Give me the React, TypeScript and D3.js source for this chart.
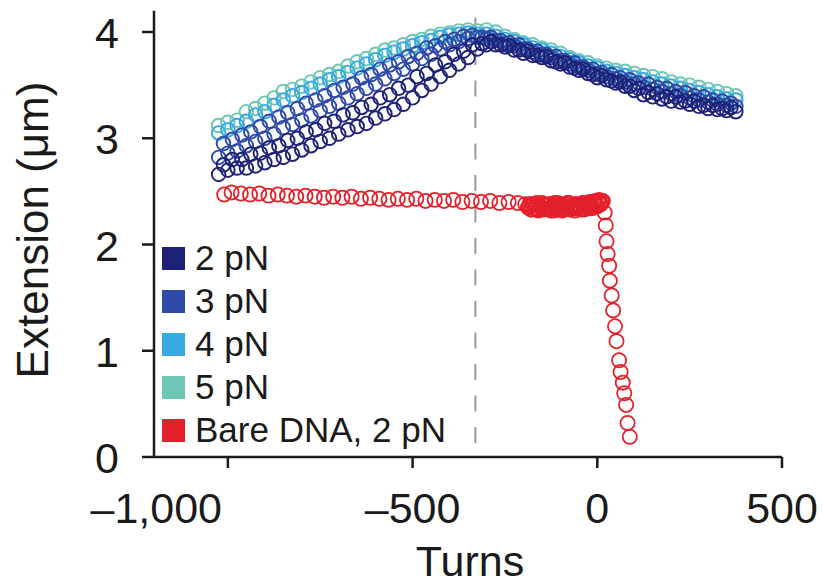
import React from "react";
import * as d3 from "d3";

// ---------- data ----------
const turnsBlue = [
  -1025, -1000, -975, -950, -925, -900, -875, -850, -825, -800, -775, -750, -725, -700, -675, -650, -625, -600,
  -575, -550, -525, -500, -475, -450, -425, -400, -375, -350, -325, -300, -275, -250, -225, -200, -175, -150,
  -125, -100, -75, -50, -25, 0, 25, 50, 75, 100, 125, 150, 175, 200, 225, 250, 275, 300, 325, 350, 375,
];
// second sweep, offset by half a step
const turnsBlueB = [
  -1012, -988, -962, -938, -912, -888, -862, -838, -812, -788, -762, -738, -712, -688, -662, -638, -612, -588,
  -562, -538, -512, -488, -462, -438, -412, -388, -362, -338, -312, -288, -262, -238, -212, -188, -162, -138,
  -112, -88, -62, -38, -12, 12, 38, 62, 88, 112, 138, 162, 188, 212, 238, 262, 288, 312, 338, 362,
];

const ext5pN = [
  3.12, 3.15, 3.17, 3.25, 3.28, 3.33, 3.38, 3.44, 3.46, 3.49, 3.53, 3.57, 3.6, 3.63, 3.68, 3.72, 3.75, 3.79,
  3.83, 3.85, 3.88, 3.91, 3.93, 3.96, 3.98, 3.99, 4.01, 4.02, 4.01, 4.02, 4.0, 3.96, 3.93, 3.9, 3.88, 3.85,
  3.83, 3.8, 3.76, 3.73, 3.71, 3.68, 3.66, 3.64, 3.63, 3.61, 3.59, 3.58, 3.56, 3.53, 3.51, 3.5, 3.48, 3.46,
  3.44, 3.42, 3.4,
];
const ext4pN = [
  3.05, 3.08, 3.12, 3.16, 3.22, 3.25, 3.31, 3.36, 3.4, 3.43, 3.47, 3.51, 3.55, 3.58, 3.62, 3.66, 3.7, 3.74,
  3.78, 3.81, 3.84, 3.87, 3.9, 3.92, 3.95, 3.97, 3.98, 3.99, 3.98, 3.98, 3.96, 3.93, 3.91, 3.88, 3.85, 3.83,
  3.8, 3.77, 3.74, 3.71, 3.68, 3.66, 3.63, 3.61, 3.59, 3.57, 3.55, 3.53, 3.51, 3.49, 3.47, 3.45, 3.43, 3.41,
  3.39, 3.37, 3.36,
];
const ext3pNB = [
  2.95, 2.99, 3.03, 3.06, 3.11, 3.16, 3.2, 3.24, 3.28, 3.33, 3.36, 3.4, 3.45, 3.48, 3.51, 3.57, 3.6, 3.65,
  3.69, 3.72, 3.77, 3.8, 3.85, 3.87, 3.91, 3.93, 3.96, 3.97, 3.95, 3.95, 3.92, 3.9, 3.88, 3.84, 3.82, 3.79,
  3.77, 3.73, 3.71, 3.67, 3.65, 3.62, 3.6, 3.57, 3.55, 3.52, 3.51, 3.48, 3.47, 3.44, 3.43, 3.4, 3.39, 3.36,
  3.35, 3.33,
];
const ext3pN = [
  2.82, 2.86, 2.88, 2.93, 2.97, 3.0, 3.04, 3.1, 3.13, 3.17, 3.21, 3.26, 3.3, 3.33, 3.38, 3.42, 3.47, 3.51,
  3.56, 3.61, 3.65, 3.7, 3.75, 3.79, 3.84, 3.88, 3.91, 3.94, 3.95, 3.94, 3.92, 3.89, 3.87, 3.84, 3.81, 3.79,
  3.76, 3.73, 3.7, 3.67, 3.64, 3.61, 3.58, 3.56, 3.53, 3.51, 3.48, 3.46, 3.44, 3.42, 3.4, 3.38, 3.36, 3.34,
  3.32, 3.31, 3.3,
];
const ext2pNB = [
  2.75, 2.8, 2.8, 2.85, 2.86, 2.91, 2.93, 2.98, 3.0, 3.06, 3.08, 3.14, 3.16, 3.22, 3.24, 3.29, 3.32, 3.38,
  3.41, 3.47, 3.5, 3.58, 3.61, 3.69, 3.72, 3.79, 3.82, 3.88, 3.89, 3.91, 3.88, 3.87, 3.83, 3.82, 3.78, 3.77,
  3.72, 3.71, 3.66, 3.65, 3.6, 3.59, 3.54, 3.53, 3.49, 3.47, 3.43, 3.42, 3.39, 3.39, 3.35, 3.35, 3.31, 3.31,
  3.28, 3.29,
];
const ext2pN = [
  2.66, 2.7, 2.72, 2.72, 2.74, 2.77, 2.8, 2.82, 2.85, 2.89, 2.93, 2.97, 3.0, 3.04, 3.08, 3.11, 3.14, 3.19,
  3.23, 3.27, 3.32, 3.38, 3.45, 3.51, 3.58, 3.64, 3.7, 3.76, 3.84, 3.88, 3.88, 3.86, 3.83, 3.8, 3.78, 3.76,
  3.73, 3.7, 3.67, 3.64, 3.61, 3.57, 3.55, 3.52, 3.49, 3.45, 3.41, 3.39, 3.37, 3.35, 3.34, 3.32, 3.3, 3.28,
  3.27, 3.26, 3.25,
];

const turnsBare = [
  -1010, -990, -965, -940, -915, -890, -865, -840, -815, -790, -765, -740, -715, -690, -665, -640, -615, -590,
  -565, -540, -515, -490, -465, -440, -415, -390, -365, -340, -315, -290, -265, -240, -215, -195,
  -185, -180, -175, -170, -165, -160, -155, -150, -145, -140, -135, -130, -125, -120, -115, -110, -105, -100,
  -95, -90, -85, -80, -75, -70, -65, -60, -55, -50, -45, -40, -35, -30, -25, -20, -15, -10, -5, 0, 5, 10, 15,
  20, 23, 25, 28, 32, 34, 39, 43, 48, 52, 59, 63, 69, 73, 78, 82, 88,
];
const extBare = [
  2.47, 2.49, 2.48, 2.47, 2.48, 2.46, 2.47, 2.46, 2.45, 2.46, 2.45, 2.44, 2.45, 2.44, 2.45, 2.43, 2.44, 2.43,
  2.42, 2.43, 2.42, 2.43, 2.41, 2.42, 2.41, 2.42, 2.4, 2.41, 2.4, 2.41, 2.39, 2.4, 2.39, 2.38,
  2.36, 2.33, 2.38, 2.34, 2.37, 2.32, 2.36, 2.39, 2.33, 2.37, 2.34, 2.38, 2.32, 2.36, 2.39, 2.33, 2.35, 2.38,
  2.32, 2.36, 2.34, 2.39, 2.33, 2.37, 2.35, 2.32, 2.38, 2.34, 2.36, 2.39, 2.33, 2.37, 2.35, 2.4, 2.34, 2.38,
  2.41, 2.36, 2.42, 2.38, 2.41, 2.3, 2.18, 2.03, 1.91, 1.8, 1.66, 1.52, 1.38, 1.23, 1.09, 0.91, 0.8, 0.7, 0.6,
  0.49, 0.32, 0.19,
];
// second, denser sweep near zero turns
const turnsBareB = [
  -188, -183, -178, -173, -168, -163, -158, -153, -148, -143, -138, -133, -128, -123, -118, -113, -108, -103,
  -98, -93, -88, -83, -78, -73, -68, -63, -58, -53, -48, -43, -38, -33, -28, -23, -18, -13, -8, -3, 2, 7, 12,
];
const extBareB = [
  2.35, 2.38, 2.33, 2.37, 2.34, 2.39, 2.33, 2.35, 2.38, 2.34, 2.37, 2.33, 2.38, 2.35, 2.32, 2.37, 2.39, 2.34,
  2.37, 2.33, 2.38, 2.35, 2.39, 2.33, 2.36, 2.38, 2.34, 2.37, 2.35, 2.33, 2.38, 2.36, 2.39, 2.34, 2.38, 2.36,
  2.4, 2.37, 2.41, 2.38, 2.4,
];

const legendLabels = ["2 pN", "3 pN", "4 pN", "5 pN", "Bare DNA, 2 pN"];
const legendColors = ["#1e2277", "#2f4aa8", "#35aae3", "#6fc6b6", "#e4202a"];

const xTicks = [-1000, -500, 0, 500];
const xTickLabels = ["–1,000", "–500", "0", "500"];
const yTicks = [0, 1, 2, 3, 4];
const transitionTurn = -330;

// ---------- layout ----------
const W = 823;
const H = 587;
const FONT = "'Liberation Sans', Arial, Helvetica, sans-serif";

export default function App() {
  const x = d3.scaleLinear().domain([-1200, 500]).range([154, 782]);
  const y = d3.scaleLinear().domain([0, 4.2]).range([457, 10.75]);

  const blueSeries = [
    { t: turnsBlue, vals: ext5pN, color: legendColors[3] },
    { t: turnsBlue, vals: ext4pN, color: legendColors[2] },
    { t: turnsBlueB, vals: ext3pNB, color: legendColors[1] },
    { t: turnsBlue, vals: ext3pN, color: legendColors[1] },
    { t: turnsBlueB, vals: ext2pNB, color: legendColors[0] },
    { t: turnsBlue, vals: ext2pN, color: legendColors[0] },
  ];
  const redSeries = [
    { t: turnsBare, vals: extBare },
    { t: turnsBareB, vals: extBareB },
  ];

  return (
    <svg
      width={W}
      height={H}
      style={{ position: "absolute", left: 0, top: 0, background: "#fff" }}
      fontFamily={FONT}
    >
      {/* dashed transition line */}
      <line
        x1={x(transitionTurn)}
        x2={x(transitionTurn)}
        y1={17.5}
        y2={y(0)}
        stroke="#9a9a9a"
        strokeWidth={2}
        strokeDasharray="16 15.5"
      />

      {/* bare DNA */}
      {redSeries.map((s, si) => (
        <g key={"r" + si}>
          {s.t.map((t, i) => (
            <circle
              key={i}
              cx={x(t)}
              cy={y(s.vals[i])}
              r={7.1}
              fill="none"
              stroke={legendColors[4]}
              strokeWidth={1.8}
            />
          ))}
        </g>
      ))}

      {/* chromatin series */}
      {blueSeries.map((s, si) => (
        <g key={"s" + si}>
          {s.t.map((t, i) => (
            <circle
              key={i}
              cx={x(t)}
              cy={y(s.vals[i])}
              r={6.8}
              fill="none"
              stroke={s.color}
              strokeWidth={1.9}
            />
          ))}
        </g>
      ))}

      {/* axes */}
      <g stroke="#1a1a1a" strokeWidth={2.5} fill="none">
        <line x1={154} x2={154} y1={y.range()[1]} y2={y(0)} />
        <line x1={154} x2={782} y1={y(0)} y2={y(0)} />
        {yTicks.map((v) => (
          <line key={"yt" + v} x1={142} x2={154} y1={y(v)} y2={y(v)} />
        ))}
        {xTicks.map((v) => (
          <line key={"xt" + v} x1={x(v)} x2={x(v)} y1={y(0)} y2={y(0) + 11} />
        ))}
      </g>

      {/* tick labels */}
      <g fill="#1a1a1a" fontSize={43}>
        {yTicks.map((v) => (
          <text key={"yl" + v} x={119} y={y(v) + 16} textAnchor="end">
            {v}
          </text>
        ))}
        {xTicks.map((v, i) => (
          <text
            key={"xl" + v}
            x={i === 0 ? 222 : x(v)}
            y={523}
            textAnchor={i === 0 ? "end" : "middle"}
          >
            {xTickLabels[i]}
          </text>
        ))}
      </g>

      {/* axis titles */}
      <text x={470} y={576} textAnchor="middle" fontSize={43} fill="#1a1a1a">
        Turns
      </text>
      <text
        transform="translate(48,230) rotate(-90)"
        textAnchor="middle"
        fontSize={44}
        fill="#1a1a1a"
      >
        Extension (μm)
      </text>

      {/* legend */}
      <g>
        {legendLabels.map((lab, i) => (
          <g key={"lg" + i} transform={`translate(162, ${258.5 + i * 43})`}>
            <rect x={0} y={-11.5} width={23} height={23} fill={legendColors[i]} />
            <text x={33} y={11} fontSize={35} fill="#1a1a1a">
              {lab}
            </text>
          </g>
        ))}
      </g>
    </svg>
  );
}
